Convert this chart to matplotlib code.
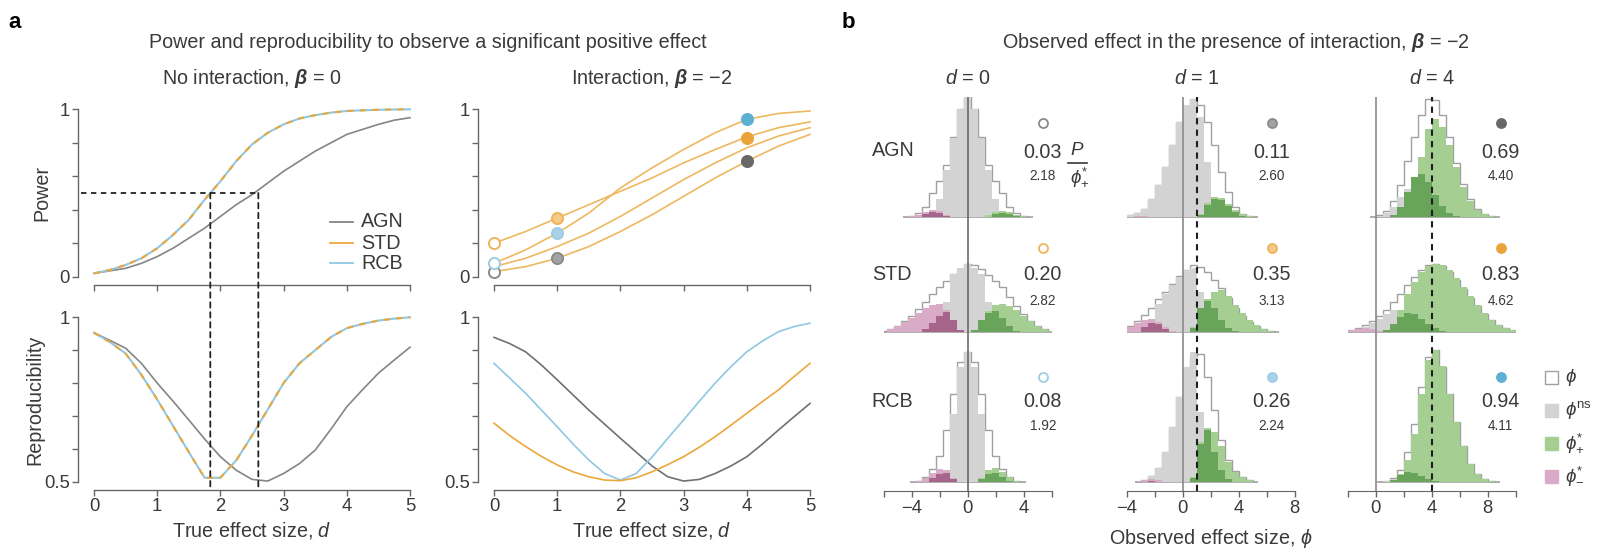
import matplotlib
matplotlib.use('Agg')
import matplotlib.pyplot as plt
from matplotlib.patches import ConnectionPatch, Rectangle
from matplotlib.lines import Line2D
import numpy as np

plt.rcParams['font.family'] = ['Liberation Sans', 'DejaVu Sans']
plt.rcParams['mathtext.fontset'] = 'custom'
plt.rcParams['mathtext.rm'] = 'Liberation Sans'
plt.rcParams['mathtext.it'] = 'Liberation Sans:italic'
plt.rcParams['mathtext.bf'] = 'Liberation Sans:bold:italic'
plt.rcParams['mathtext.fallback'] = 'stixsans'

### Panel a: power and reproducibility vs true effect size ###
d_fine = np.linspace(0, 5, 21)      # step 0.25
d_coarse = np.linspace(0, 5, 11)    # step 0.5

power_agn_b0 = [0.02, 0.035, 0.05, 0.08, 0.12, 0.17, 0.23, 0.29, 0.36, 0.43, 0.49,
                0.56, 0.63, 0.69, 0.75, 0.80, 0.85, 0.88, 0.91, 0.935, 0.95]
power_std_b0 = [0.02, 0.04, 0.07, 0.11, 0.17, 0.25, 0.34, 0.46, 0.57, 0.69, 0.79,
                0.86, 0.91, 0.945, 0.965, 0.98, 0.99, 0.994, 0.997, 0.999, 1.0]
power_rcb_b0 = power_std_b0  # identical without interaction
repro_agn_b0 = [0.953, 0.93, 0.906, 0.86, 0.80, 0.745, 0.688, 0.63, 0.576, 0.535, 0.507,
                0.502, 0.525, 0.555, 0.596, 0.66, 0.728, 0.78, 0.83, 0.87, 0.909]
repro_std_b0 = [0.953, 0.925, 0.89, 0.825, 0.75, 0.67, 0.59, 0.512, 0.512, 0.565, 0.64,
                0.72, 0.80, 0.86, 0.90, 0.94, 0.967, 0.98, 0.99, 0.996, 1.0]
repro_rcb_b0 = repro_std_b0

power_std_b2 = [0.20, 0.27, 0.35, 0.43, 0.51, 0.59, 0.68, 0.76, 0.835, 0.89, 0.925]
power_rcb_b2 = [0.08, 0.16, 0.26, 0.38, 0.53, 0.65, 0.76, 0.86, 0.94, 0.975, 0.99]
power_mid_b2 = [0.06, 0.11, 0.18, 0.26, 0.36, 0.47, 0.58, 0.68, 0.77, 0.84, 0.89]
power_agn_b2 = [0.03, 0.06, 0.11, 0.18, 0.27, 0.37, 0.48, 0.59, 0.69, 0.78, 0.85]
repro_agn_b2 = [0.939, 0.92, 0.895, 0.855, 0.81, 0.764, 0.718, 0.675, 0.632, 0.59, 0.548,
                0.515, 0.502, 0.507, 0.525, 0.548, 0.576, 0.615, 0.657, 0.698, 0.738]
repro_rcb_b2 = [0.86, 0.815, 0.769, 0.718, 0.667, 0.615, 0.566, 0.525, 0.505, 0.525, 0.575,
                0.632, 0.688, 0.745, 0.80, 0.85, 0.895, 0.928, 0.956, 0.972, 0.982]
repro_std_b2 = [0.678, 0.64, 0.607, 0.577, 0.551, 0.53, 0.515, 0.505, 0.503, 0.512, 0.530,
                0.552, 0.576, 0.605, 0.637, 0.672, 0.708, 0.744, 0.779, 0.82, 0.86]

d50_std, d50_agn = 1.84, 2.6   # d at 50% power

### Panel b: summary numbers ###
groups = ['AGN', 'STD', 'RCB']
d_shown = [0, 1, 4]
power_marks = {'AGN': [0.03, 0.11, 0.69], 'STD': [0.20, 0.35, 0.83], 'RCB': [0.08, 0.26, 0.94]}
mean_pos = {'AGN': [2.18, 2.60, 4.40], 'STD': [2.82, 3.13, 4.62], 'RCB': [1.92, 2.24, 4.11]}

# histograms: (left edge of first 0.5-wide bin, frequencies in a.u.)
BIN = 0.5
agn_d0 = {'all': (-4.25, [1, 4, 10, 24, 36, 52, 80, 108, 120, 108, 80, 52, 36, 24, 10, 4, 1]),
          'ns': (-3.25, [1, 5, 18, 47, 79, 108, 120, 108, 79, 47, 18, 5, 1]),
          'pos': (1.25, [2, 5, 6, 5, 2, 1]), 'posd': (1.75, [3, 4, 3, 1]),
          'neg': (-4.25, [1, 2, 5, 7, 6, 2]), 'negd': (-3.25, [3, 5, 4, 1])}
std_d0 = {'all': (-6.25, [1, 3, 6, 11, 16, 23, 30, 38, 45, 51, 58, 63, 68, 67, 63, 57, 51, 45, 35, 26, 18, 11, 6, 3, 1]),
          'ns': (-2.25, [3, 30, 58, 64, 68, 64, 58, 30, 3]),
          'pos': (0.25, [2, 10, 21, 27, 28, 26, 22, 16, 11, 6, 3, 1]), 'posd': (0.25, [2, 12, 19, 21, 14, 6, 1]),
          'neg': (-5.75, [3, 6, 10, 14, 19, 24, 27, 28, 22, 10, 2]), 'negd': (-3.25, [3, 9, 16, 20, 12, 2])}
rcb_d0 = {'all': (-3.75, [1, 5, 13, 26, 52, 88, 120, 130, 120, 88, 52, 26, 13, 5, 1]),
          'ns': (-1.75, [12, 68, 115, 130, 115, 68, 12]),
          'pos': (0.75, [4, 12, 14, 10, 5, 1]), 'posd': (0.75, [3, 8, 9, 5, 1]),
          'neg': (-3.75, [1, 4, 9, 13, 12, 4]), 'negd': (-2.75, [4, 8, 9, 3])}
agn_d1 = {'all': (-4.0, [2, 4, 8, 18, 32, 50, 72, 95, 110, 118, 112, 95, 72, 45, 25, 10, 3, 1]),
          'ns': (-4.0, [2, 4, 8, 18, 32, 50, 72, 95, 112, 118, 100, 55, 20, 5, 1]),
          'pos': (1.0, [3, 14, 20, 19, 13, 7, 3, 1]), 'posd': (1.0, [2, 12, 18, 17, 11, 5, 1]),
          'neg': (-3.5, [1, 1]), 'negd': (-3.5, [])}
std_d1 = {'all': (-4.5, [3, 6, 11, 17, 24, 33, 40, 48, 56, 62, 67, 65, 60, 52, 44, 34, 24, 16, 10, 6, 3, 1]),
          'ns': (-3.0, [3, 12, 28, 38, 47, 55, 62, 64, 40, 10, 2]),
          'pos': (0.5, [5, 20, 33, 40, 42, 36, 27, 19, 12, 7, 3, 1]), 'posd': (0.5, [4, 24, 31, 24, 12, 4, 1]),
          'neg': (-4.5, [2, 5, 9, 12, 13, 10, 5, 1]), 'negd': (-3.0, [5, 9, 8, 3])}
rcb_d1 = {'all': (-3.0, [2, 6, 14, 30, 55, 85, 112, 126, 128, 105, 72, 42, 22, 11, 5, 2]),
          'ns': (-3.0, [2, 6, 14, 30, 55, 85, 115, 130, 70, 15, 3]),
          'pos': (0.5, [5, 40, 54, 50, 36, 20, 10, 5, 2]), 'posd': (0.5, [4, 38, 52, 30, 12, 3]),
          'neg': (-3.0, [2, 3, 2]), 'negd': (-2.5, [1])}
agn_d4 = {'all': (0.0, [2, 6, 16, 32, 56, 80, 102, 118, 117, 102, 80, 54, 33, 18, 8, 3, 1]),
          'ns': (0.0, [1, 4, 10, 20, 28, 30, 25, 15, 5, 1]),
          'pos': (1.5, [5, 14, 32, 60, 88, 98, 90, 72, 50, 30, 16, 7, 3, 1]),
          'posd': (1.0, [2, 10, 25, 40, 43, 35, 22, 11, 4, 1]),
          'neg': (0.0, []), 'negd': (0.0, [])}
std_d4 = {'all': (-2.0, [2, 4, 7, 11, 16, 22, 30, 38, 47, 55, 62, 67, 68, 66, 60, 52, 43, 34, 26, 18, 12, 7, 4, 2]),
          'ns': (-2.0, [1, 3, 5, 9, 13, 18, 22, 22, 15, 6, 2]),
          'pos': (1.0, [8, 22, 38, 50, 60, 66, 68, 67, 62, 54, 45, 36, 27, 19, 12, 7, 4, 2]),
          'posd': (0.5, [2, 8, 15, 19, 18, 13, 8, 4, 1]),
          'neg': (-2.0, [2, 3, 4, 3, 1]), 'negd': (0.0, [])}
rcb_d4 = {'all': (0.5, [1, 4, 12, 30, 58, 95, 125, 132, 115, 88, 60, 36, 18, 8, 3, 1]),
          'ns': (0.5, [1, 3, 5, 4, 2]),
          'pos': (1.0, [2, 8, 22, 48, 88, 122, 132, 116, 88, 60, 36, 18, 8, 3, 1]),
          'posd': (1.0, [2, 7, 10, 9, 6, 3, 1]),
          'neg': (0.0, []), 'negd': (0.0, [])}
hists = {('AGN', 0): agn_d0, ('STD', 0): std_d0, ('RCB', 0): rcb_d0,
         ('AGN', 1): agn_d1, ('STD', 1): std_d1, ('RCB', 1): rcb_d1,
         ('AGN', 4): agn_d4, ('STD', 4): std_d4, ('RCB', 4): rcb_d4}

### Styling ###
W, H = 1607, 550
TXT = '#3a3a3a'
SPINE = '#666666'
FS = 14.2
C_AGN, C_STD, C_RCB = '#858585', '#eaa83c', '#90c7e3'
C_LINE_B2 = '#eeb860'
mark_edge = {'AGN': '#8a8a8a', 'STD': '#efb45a', 'RCB': '#9dcde4'}
mark_mid = {'AGN': '#a3a3a3', 'STD': '#f4c98a', 'RCB': '#a9d2e9'}
mark_full = {'AGN': '#686868', 'STD': '#eba43a', 'RCB': '#5cb0d4'}
hist_colors = {'ns': '#d3d3d3', 'pos': '#a5cf92', 'posd': '#68a45a', 'neg': '#d9abc7', 'negd': '#a7658c'}


def fx(px):
    return px / W


def fy(py):
    return 1 - py / H


def axes_px(left, top, right, bottom):
    return fig.add_axes([fx(left), fy(bottom), (right - left) / W, (bottom - top) / H])


def mark_style(g, j):
    if j == 0:
        return dict(mfc='white', mec=mark_edge[g])
    if j == 1:
        return dict(mfc=mark_mid[g], mec=mark_edge[g])
    return dict(mfc=mark_full[g], mec=mark_full[g])


fig = plt.figure(figsize=(W / 100, H / 100), dpi=100)

ax_p0 = axes_px(94, 109.3, 410, 276.7)
ax_p1 = axes_px(494, 109.3, 810, 276.7)
ax_r0 = axes_px(94, 317.3, 410, 481.7)
ax_r1 = axes_px(494, 317.3, 810, 481.7)

for ax, top in [(ax_p0, True), (ax_p1, True), (ax_r0, False), (ax_r1, False)]:
    ax.set_xlim(0, 5)
    if top:
        ax.set_ylim(0, 1)
        ax.set_yticks([0, 0.2, 0.4, 0.6, 0.8, 1])
        ax.set_yticklabels(['0', '', '', '', '', '1'])
        ax.set_xticks(range(6))
        ax.set_xticklabels([])
    else:
        ax.set_ylim(0.5, 1)
        ax.set_yticks([0.5, 0.6, 0.7, 0.8, 0.9, 1])
        ax.set_yticklabels(['0.5', '', '', '', '', '1'])
        ax.set_xticks(range(6))
        ax.set_xlabel('True effect size, $d$', fontsize=FS, color=TXT, labelpad=3)
    for s in ['top', 'right']:
        ax.spines[s].set_visible(False)
    ax.spines['left'].set_position(('outward', 11.3))
    ax.spines['bottom'].set_position(('outward', 6))
    for s in ['left', 'bottom']:
        ax.spines[s].set_color(SPINE)
        ax.spines[s].set_linewidth(1.0)
    ax.tick_params(length=4, width=1, color=SPINE, labelsize=13.3, labelcolor=TXT, pad=2)
    ax.patch.set_visible(False)

ax_p0.set_ylabel('Power', fontsize=FS, color=TXT, labelpad=6)
ax_r0.set_ylabel('Reproducibility', fontsize=FS, color=TXT, labelpad=0)

# no interaction
ax_p0.plot(d_fine, power_agn_b0, color=C_AGN, lw=1.2, clip_on=False)
ax_p0.plot(d_fine, power_rcb_b0, color=C_RCB, lw=1.5, clip_on=False)
ax_p0.plot(d_fine, power_std_b0, color=C_STD, lw=1.5, dashes=(3, 3), clip_on=False)
ax_r0.plot(d_fine, repro_agn_b0, color=C_AGN, lw=1.2, clip_on=False)
ax_r0.plot(d_fine, repro_rcb_b0, color=C_RCB, lw=1.5, clip_on=False)
ax_r0.plot(d_fine, repro_std_b0, color=C_STD, lw=1.5, dashes=(3, 3), clip_on=False)

ax_p0.plot([-0.2, d50_agn], [0.5, 0.5], color='#222222', lw=1.3, dashes=(3, 2.5), clip_on=False)
for dd in [d50_std, d50_agn]:
    con = ConnectionPatch(xyA=(dd, 0.5), coordsA=ax_p0.transData, xyB=(dd, 0.475), coordsB=ax_r0.transData,
                          color='#222222', lw=1.3, linestyle=(0, (3, 2.5)))
    fig.add_artist(con)

# legend (panel a)
for k, (lab, col) in enumerate([('AGN', C_AGN), ('STD', C_STD), ('RCB', C_RCB)]):
    yy = [221.7, 243.3, 263.3][k]
    fig.add_artist(Line2D([fx(330), fx(353)], [fy(yy), fy(yy)], color=col, lw=1.3))
    fig.text(fx(361), fy(yy), lab, fontsize=FS, color=TXT, va='center', ha='left')

# interaction
for vals in [power_std_b2, power_rcb_b2, power_mid_b2, power_agn_b2]:
    ax_p1.plot(d_coarse, vals, color=C_LINE_B2, lw=1.2, clip_on=False)
for g in groups:
    for j, dd in enumerate(d_shown):
        ax_p1.plot([dd], [power_marks[g][j]], 'o', ms=8, mew=1.4, clip_on=False, zorder=5,
                   **mark_style(g, j))
ax_r1.plot(d_fine, repro_agn_b2, color='#707070', lw=1.2, clip_on=False)
ax_r1.plot(d_fine, repro_rcb_b2, color=C_RCB, lw=1.2, clip_on=False)
ax_r1.plot(d_fine, repro_std_b2, color=C_STD, lw=1.2, clip_on=False)

fig.text(fx(428), fy(42), 'Power and reproducibility to observe a significant positive effect',
         fontsize=FS, color=TXT, ha='center', va='center')
fig.text(fx(252), fy(78), r'No interaction, $\mathbf{\beta}$ = 0', fontsize=FS, color=TXT,
         ha='center', va='center')
fig.text(fx(652), fy(78), r'Interaction, $\mathbf{\beta}$ = −2', fontsize=FS, color=TXT,
         ha='center', va='center')
fig.text(fx(15), fy(22), 'a', fontsize=16, fontweight='bold', ha='center', va='center')
fig.text(fx(848), fy(22), 'b', fontsize=16, fontweight='bold', ha='center', va='center')

### Panel b: histograms ###
col_left = [883.7, 1126.7, 1347.7]
col_xlim = [(-6, 6), (-4, 8), (-2, 10)]
col_labels = [[-4, 0, 4], [-4, 0, 4, 8], [0, 4, 8]]
base = {'AGN': 274.0, 'STD': 158.4, 'RCB': 9.0}
num_x = [1042.7, 1271.7, 1500.7]
row_y = {'AGN': (123.3, 152, 175.5), 'STD': (248.3, 275, 300.7), 'RCB': (376.7, 401.7, 425.7)}
row_label_y = {'AGN': 150, 'STD': 275, 'RCB': 401.7}


def draw_layer(ax, layer, b, **kw):
    start, vals = layer
    if len(vals) == 0:
        return
    vals = np.asarray(vals, float)
    edges = start + BIN * np.arange(len(vals) + 1)
    ax.stairs(b + vals, edges, baseline=b, **kw)


for c, dd in enumerate(d_shown):
    ax = axes_px(col_left[c], 96.7, col_left[c] + 168, 490.7)
    ax.set_xlim(*col_xlim[c])
    ax.set_ylim(0, 394)
    for s in ['top', 'right', 'left']:
        ax.spines[s].set_visible(False)
    ax.spines['bottom'].set_color(SPINE)
    ax.set_yticks([])
    lo, hi = col_xlim[c]
    ticks = list(range(lo, hi + 1, 2))
    ax.set_xticks(ticks)
    ax.set_xticklabels([str(t).replace('-', '−') if t in col_labels[c] else '' for t in ticks])
    ax.tick_params(length=4, width=1, color=SPINE, labelsize=13.3, labelcolor=TXT, pad=3)
    ax.patch.set_visible(False)

    for g in groups:
        hd = hists[(g, dd)]
        b = base[g]
        start, vals = hd['all']
        e0, e1 = start, start + BIN * len(vals)
        ax.plot([e0 - 0.4, e1 + 0.4], [b, b], color='#a8a8a8', lw=1.3, zorder=1, solid_capstyle='butt')
        draw_layer(ax, hd['all'], b, fill=True, color='white', zorder=1.5)
        draw_layer(ax, hd['all'], b, fill=False, color='#a0a0a0', lw=1.0, zorder=2)
        draw_layer(ax, hd['ns'], b, fill=True, color=hist_colors['ns'], zorder=3)
        draw_layer(ax, hd['pos'], b, fill=True, color=hist_colors['pos'], zorder=4)
        draw_layer(ax, hd['neg'], b, fill=True, color=hist_colors['neg'], zorder=4)
        draw_layer(ax, hd['posd'], b, fill=True, color=hist_colors['posd'], zorder=5)
        draw_layer(ax, hd['negd'], b, fill=True, color=hist_colors['negd'], zorder=5)

        j = d_shown.index(dd)
        yc, yb, ys = row_y[g]
        fig.add_artist(Line2D([fx(num_x[c])], [fy(yc)], marker='o', ms=6.5, mew=1.3, **mark_style(g, j)))
        fig.text(fx(num_x[c]), fy(yb), f'{power_marks[g][j]:.2f}', fontsize=FS, color=TXT,
                 ha='center', va='center')
        fig.text(fx(num_x[c]), fy(ys), f'{mean_pos[g][j]:.2f}', fontsize=9.8, color=TXT,
                 ha='center', va='center')

    if dd == 0:
        ax.axvline(0, color='#6a6a6a', lw=1.2, zorder=6)
    else:
        ax.axvline(0, color='#8a8a8a', lw=1.2, zorder=6)
        ax.axvline(dd, color='#1e1e1e', lw=1.5, dashes=(3, 2.5), zorder=7)
    fig.text(fx(col_left[c] + 14 * (dd - lo)), fy(78), f'$d$ = {dd}', fontsize=FS, color=TXT,
             ha='center', va='center')

for g in groups:
    fig.text(fx(871.7), fy(row_label_y[g]), g, fontsize=FS, color=TXT, ha='left', va='center')

# P / phi+* key
fig.text(fx(1077), fy(150.5), '$P$', fontsize=13.5, color=TXT, ha='center', va='center')
fig.add_artist(Line2D([fx(1068), fx(1087)], [fy(163), fy(163)], color=TXT, lw=1.2))
fig.text(fx(1080), fy(177), r'$\phi^{*}_{+}$', fontsize=13.5, color=TXT, ha='center', va='center')

fig.text(fx(1236), fy(42), r'Observed effect in the presence of interaction, $\mathbf{\beta}$ = −2',
         fontsize=FS, color=TXT, ha='center', va='center')
fig.text(fx(1210.7), fy(538), r'Observed effect size, $\phi$', fontsize=FS, color=TXT,
         ha='center', va='center')

# legend (panel b)
leg = [('white', '#a0a0a0', r'$\phi$'), (hist_colors['ns'], hist_colors['ns'], r'$\phi^{\rm ns}$'),
       (hist_colors['pos'], hist_colors['pos'], r'$\phi^{*}_{+}$'),
       (hist_colors['neg'], hist_colors['neg'], r'$\phi^{*}_{-}$')]
for k, (fc, ec, lab) in enumerate(leg):
    yy = [377.7, 410, 443.3, 476][k]
    fig.add_artist(Rectangle((fx(1545.2), fy(yy + 6.5)), 13 / W, 13 / H, transform=fig.transFigure,
                             facecolor=fc, edgecolor=ec, lw=1.0))
    fig.text(fx(1565), fy(yy), lab, fontsize=13.5, color=TXT, ha='left', va='center')

fig.savefig('out.png', dpi=100)
